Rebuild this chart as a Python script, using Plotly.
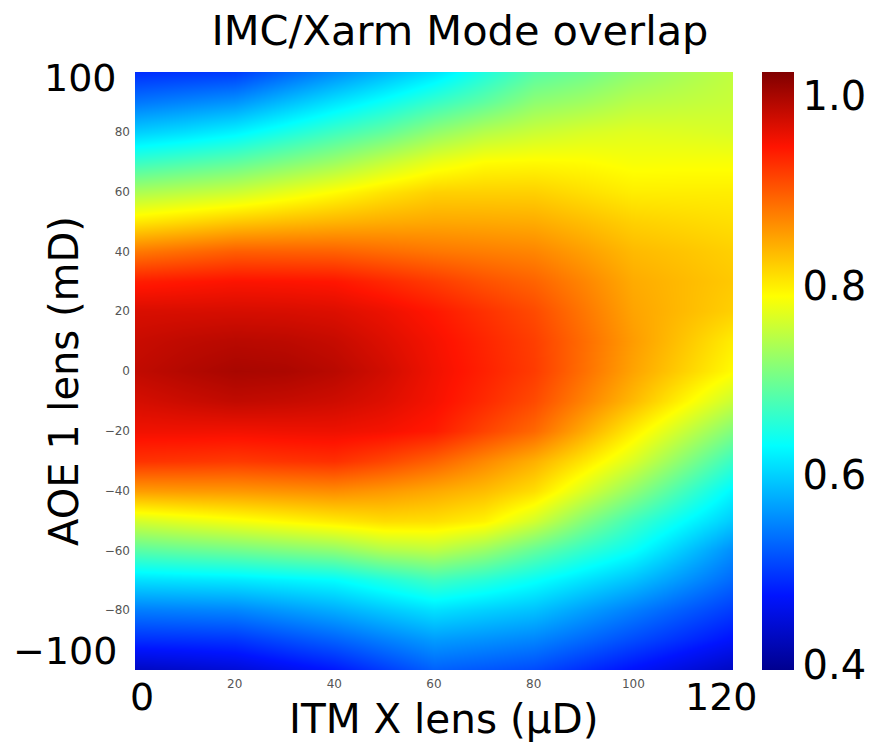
import plotly.graph_objects as go

# ITM X lens sweep (µD) and AOE 1 lens sweep (mD)
itm_x_lens = [0, 10, 20, 30, 40, 50, 60, 70, 80, 90, 100, 110, 120]
aoe1_lens = [100, 90, 80, 70, 60, 50, 40, 30, 20, 10, 0,
             -10, -20, -30, -40, -50, -60, -70, -80, -90, -100]

# Mode overlap, one list per ITM X lens column (top to bottom in AOE 1 lens)
overlap_x0 = [0.49, 0.54, 0.599, 0.666, 0.737, 0.805, 0.878, 0.94, 0.97, 0.98, 0.985,
              0.972, 0.955, 0.926, 0.854, 0.761, 0.686, 0.61, 0.544, 0.49, 0.43]
overlap_x10 = [0.495, 0.55, 0.61, 0.678, 0.747, 0.816, 0.887, 0.944, 0.971, 0.986, 0.993,
               0.979, 0.955, 0.924, 0.856, 0.772, 0.694, 0.613, 0.547, 0.492, 0.437]
overlap_x20 = [0.50, 0.56, 0.624, 0.69, 0.757, 0.827, 0.896, 0.948, 0.972, 0.99, 1.0,
               0.985, 0.954, 0.921, 0.857, 0.782, 0.701, 0.616, 0.55, 0.495, 0.445]
overlap_x30 = [0.528, 0.587, 0.647, 0.709, 0.774, 0.834, 0.895, 0.947, 0.971, 0.988, 0.998,
               0.982, 0.956, 0.925, 0.861, 0.792, 0.71, 0.623, 0.563, 0.51, 0.46]
overlap_x40 = [0.555, 0.613, 0.67, 0.728, 0.79, 0.84, 0.894, 0.945, 0.968, 0.982, 0.99,
               0.977, 0.957, 0.928, 0.865, 0.802, 0.719, 0.63, 0.576, 0.525, 0.475]
overlap_x50 = [0.583, 0.638, 0.692, 0.753, 0.807, 0.845, 0.887, 0.933, 0.958, 0.968, 0.975,
               0.967, 0.952, 0.913, 0.857, 0.812, 0.74, 0.65, 0.594, 0.545, 0.50]
overlap_x60 = [0.612, 0.665, 0.721, 0.776, 0.82, 0.848, 0.88, 0.92, 0.944, 0.952, 0.955,
               0.952, 0.942, 0.894, 0.846, 0.81, 0.748, 0.67, 0.611, 0.564, 0.525]
overlap_x70 = [0.65, 0.69, 0.743, 0.79, 0.82, 0.847, 0.875, 0.905, 0.927, 0.935, 0.938,
               0.932, 0.915, 0.868, 0.833, 0.797, 0.726, 0.655, 0.60, 0.557, 0.518]
overlap_x80 = [0.685, 0.719, 0.756, 0.792, 0.82, 0.845, 0.87, 0.893, 0.91, 0.918, 0.92,
               0.91, 0.89, 0.842, 0.811, 0.761, 0.693, 0.635, 0.59, 0.549, 0.51]
overlap_x90 = [0.70, 0.73, 0.765, 0.79, 0.81, 0.833, 0.853, 0.87, 0.88, 0.887, 0.885,
               0.872, 0.845, 0.805, 0.765, 0.712, 0.662, 0.612, 0.567, 0.53, 0.49]
overlap_x100 = [0.72, 0.745, 0.77, 0.784, 0.80, 0.82, 0.835, 0.845, 0.85, 0.855, 0.85,
                0.835, 0.80, 0.765, 0.72, 0.67, 0.635, 0.59, 0.545, 0.51, 0.47]
overlap_x110 = [0.735, 0.75, 0.768, 0.785, 0.80, 0.815, 0.828, 0.835, 0.835, 0.828, 0.82,
                0.795, 0.755, 0.715, 0.672, 0.632, 0.595, 0.56, 0.522, 0.49, 0.45]
overlap_x120 = [0.75, 0.755, 0.765, 0.785, 0.80, 0.81, 0.82, 0.825, 0.82, 0.80, 0.79,
                0.755, 0.71, 0.665, 0.625, 0.595, 0.555, 0.53, 0.50, 0.47, 0.43]

columns = [overlap_x0, overlap_x10, overlap_x20, overlap_x30, overlap_x40,
           overlap_x50, overlap_x60, overlap_x70, overlap_x80, overlap_x90,
           overlap_x100, overlap_x110, overlap_x120]
z = [[col[i] for col in columns] for i in range(len(aoe1_lens))]

x_small_ticks = [20, 40, 60, 80, 100]
y_small_ticks = [80, 60, 40, 20, 0, -20, -40, -60, -80]
cbar_ticks = [0.4, 0.6, 0.8, 1.0]

jet = [[0.0, "rgb(0,0,143)"], [0.125, "rgb(0,20,255)"], [0.375, "rgb(0,255,255)"],
       [0.625, "rgb(255,255,0)"], [0.875, "rgb(255,20,0)"], [1.0, "rgb(128,0,0)"]]

FONT = "DejaVu Sans"
W, H = 880, 751
L, R, T, B = 135, 733, 72, 670  # plot area in pixels

fig = go.Figure(go.Heatmap(
    x=itm_x_lens, y=aoe1_lens, z=z, zsmooth="best",
    colorscale=jet, zmin=0.395, zmax=1.025,
    colorbar=dict(
        x=(762 - L) / (R - L), xanchor="left", xref="paper",
        y=0.5, yanchor="middle", len=1, lenmode="fraction",
        thickness=32, xpad=0, ypad=0, outlinewidth=0,
        tickvals=cbar_ticks, ticktext=["0.4", "0.6", "0.8", "1.0"],
        ticks="", tickfont=dict(family=FONT, size=40, color="black"),
    ),
))

def px_x(p):
    return (p - L) / (R - L)

def px_y(p):
    return (B - p) / (B - T)

annotations = [
    dict(text="AOE 1 lens (mD)", x=px_x(64), y=px_y(381), textangle=-90,
         font=dict(size=40)),
    dict(text="ITM X lens (µD)", x=px_x(444), y=px_y(719), font=dict(size=40.5)),
    dict(text="100", x=px_x(119), y=px_y(78), xanchor="right", font=dict(size=38)),
    dict(text="\u2212100", x=px_x(119), y=px_y(651), xanchor="right", font=dict(size=38)),
    dict(text="0", x=px_x(142), y=px_y(697), font=dict(size=38)),
    dict(text="120", x=px_x(721), y=px_y(697), font=dict(size=38)),
]
for a in annotations:
    a.update(xref="paper", yref="paper", showarrow=False,
             xanchor=a.get("xanchor", "center"), yanchor="middle")
    a["font"].update(family=FONT, color="black")

fig.update_layout(
    width=W, height=H,
    margin=dict(l=L, r=W - R, t=T, b=H - B, pad=0),
    paper_bgcolor="white", plot_bgcolor="white",
    title=dict(text="IMC/Xarm Mode overlap", x=460 / W, xanchor="center",
               y=1 - 30 / H, yanchor="middle",
               font=dict(family=FONT, size=41.5, color="black")),
    xaxis=dict(range=[0, 120], tickvals=x_small_ticks, ticks="", showgrid=False,
               zeroline=False, showline=False, ticklabelstandoff=5,
               tickfont=dict(family=FONT, size=12, color="#555")),
    yaxis=dict(range=[-100, 100], tickvals=y_small_ticks, ticks="", showgrid=False,
               zeroline=False, showline=False, ticklabelstandoff=4,
               tickfont=dict(family=FONT, size=12, color="#555")),
    annotations=annotations,
)

fig.write_html("out.html")
